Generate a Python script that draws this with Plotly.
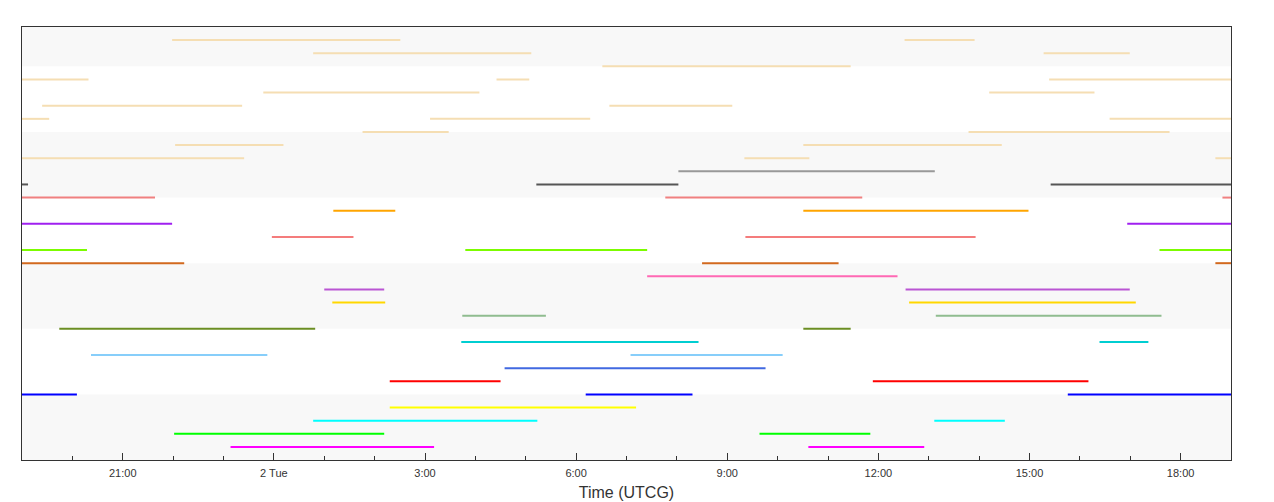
import pandas as pd
import plotly.graph_objects as go

# start of the window (UTCG)
t0 = pd.Timestamp("2024-01-01 19:00")

# one colour per row, top row first
row_colors = (["wheat"] * 10 +
              ["#999999", "#555555", "#f08080", "#ffa500", "#a020f0", "#f47c7c",
               "#7cfc00", "#d2691e", "#ff69b4", "#ba55d3", "#ffd700", "#8fbc8f",
               "#6b8e23", "#00ced1", "#87cefa", "#4169e1", "#ff0000", "#0000ff",
               "#ffff00", "#00ffff", "#00ff00", "#ff00ff"])

# intervals: row index, start and end (hours after 19:00)
bar_row = [0, 0,
           1, 1,
           2,
           3, 3, 3,
           4, 4,
           5, 5,
           6, 6, 6,
           7, 7,
           8, 8,
           9, 9, 9,
           10,
           11, 11, 11,
           12, 12, 12,
           13, 13,
           14, 14,
           15, 15,
           16, 16, 16,
           17, 17, 17,
           18,
           19, 19,
           20, 20,
           21, 21,
           22, 22,
           23, 23,
           24, 24,
           25,
           26, 26,
           27, 27, 27,
           28,
           29, 29,
           30, 30,
           31, 31]
bar_start = [2.98, 17.52,
             5.78, 20.28,
             11.52,
             0.0, 9.42, 20.39,
             4.79, 19.20,
             0.40, 11.66,
             0.0, 8.10, 21.59,
             6.76, 18.79,
             3.04, 15.51,
             0.0, 14.34, 23.69,
             13.03,
             0.0, 10.21, 20.42,
             0.0, 12.77, 23.83,
             6.18, 15.51,
             0.0, 21.94,
             4.96, 14.36,
             0.0, 8.80, 22.58,
             0.0, 13.50, 23.69,
             12.41,
             6.00, 17.54,
             6.16, 17.61,
             8.74, 18.14,
             0.74, 15.51,
             8.72, 21.39,
             1.37, 12.08,
             9.58,
             7.30, 16.89,
             0.0, 11.19, 20.76,
             7.30,
             5.78, 18.11,
             3.02, 14.64,
             4.14, 15.61]
bar_end = [7.51, 18.91,
           10.11, 21.99,
           16.45,
           1.32, 10.07, 24.0,
           9.08, 21.29,
           4.37, 14.10,
           0.54, 11.28, 24.0,
           8.47, 22.78,
           5.19, 19.45,
           4.41, 15.63, 24.0,
           18.12,
           0.12, 13.03, 24.0,
           2.64, 16.68, 24.0,
           7.41, 19.98,
           2.98, 24.0,
           6.58, 18.93,
           1.29, 12.41, 24.0,
           3.22, 16.21, 24.0,
           17.38,
           7.19, 21.99,
           7.21, 22.11,
           10.40, 22.62,
           5.82, 16.45,
           13.43, 22.36,
           4.87, 15.10,
           14.76,
           9.50, 21.17,
           1.09, 13.31, 24.0,
           12.19,
           10.23, 19.51,
           7.19, 16.84,
           8.18, 17.91]

# shaded row groups (row units)
band_edges = [-1, 2, 7, 12, 17, 22, 27, 32]

tick_hours = [2, 5, 8, 11, 14, 17, 20, 23]
tick_text = ["21:00", "2 Tue", "3:00", "6:00", "9:00", "12:00", "15:00", "18:00"]

fig = go.Figure()

# one trace per colour, segments separated by None
for color in dict.fromkeys(row_colors):
    xs, ys = [], []
    for r, s, e in zip(bar_row, bar_start, bar_end):
        if row_colors[r] != color:
            continue
        xs += [t0 + pd.Timedelta(hours=s), t0 + pd.Timedelta(hours=e), None]
        ys += [r, r, None]
    fig.add_trace(go.Scatter(x=xs, y=ys, mode="lines",
                             line=dict(color=color, width=2),
                             hoverinfo="skip", showlegend=False))

for i in range(0, len(band_edges) - 1, 2):
    fig.add_shape(type="rect", xref="paper", x0=0, x1=1,
                  y0=band_edges[i], y1=band_edges[i + 1],
                  fillcolor="#f8f8f8", line_width=0, layer="below")

fig.update_layout(
    width=1274, height=502,
    margin=dict(l=14, r=51, t=19, b=50),
    paper_bgcolor="white", plot_bgcolor="white",
    font=dict(family="Arial, Liberation Sans, sans-serif", color="#333"),
    xaxis=dict(
        range=[t0, t0 + pd.Timedelta(hours=24)],
        tickmode="array",
        tickvals=[t0 + pd.Timedelta(hours=h) for h in tick_hours],
        ticktext=tick_text,
        ticks="inside", ticklen=7, tickcolor="#333",
        minor=dict(dtick=3600000, tick0=t0, ticks="inside", ticklen=4, tickcolor="#333"),
        tickfont=dict(size=11, color="#333"),
        ticklabelstandoff=3,
        showgrid=False, zeroline=False,
        showline=True, linecolor="#333", linewidth=1, mirror=True,
        title=dict(text="Time (UTCG)", font=dict(size=16, color="#333"), standoff=8),
    ),
    yaxis=dict(
        range=[32, -1],
        showticklabels=False, ticks="", showgrid=False, zeroline=False,
        showline=True, linecolor="#333", linewidth=1, mirror=True,
    ),
)

fig.write_html("out.html")
